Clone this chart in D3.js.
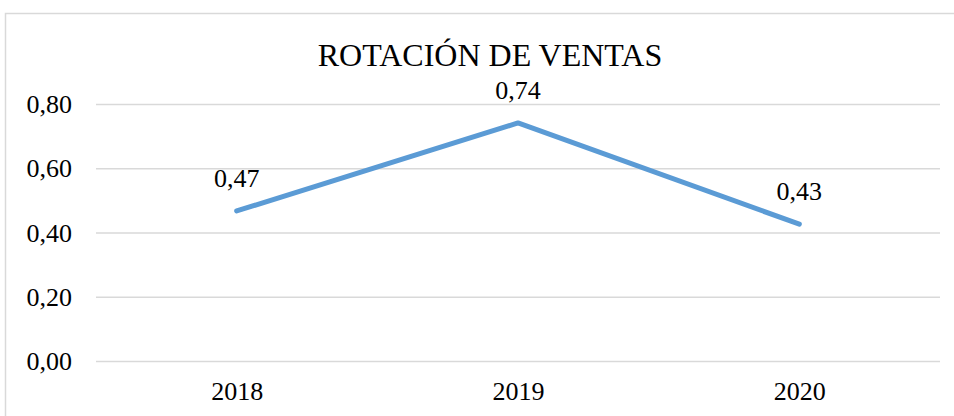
<!DOCTYPE html>
<html>
<head>
<meta charset="utf-8" />
<title>Rotación de ventas</title>
<script src="https://d3js.org/d3.v7.min.js"></script>
<style>
  body { margin: 0; background: #fff; }
</style>
</head>
<body>
<div id="canvas"></div>
<script>
// datos
var anios = ["2018", "2019", "2020"];
var rotacion = [0.467, 0.741, 0.426];
var ticksY = [0, 0.2, 0.4, 0.6, 0.8];
var titulo = "ROTACIÓN DE VENTAS";

var width = 954, height = 416;
var margin = {left: 96, right: 14, top: 104, bottom: 55};
var fuente = "'Liberation Serif', 'Times New Roman', serif";

var svg = d3.select("#canvas").append("svg")
    .attr("width", width)
    .attr("height", height);

// marco del gráfico (se corta a la derecha y abajo)
svg.append("rect")
    .attr("x", 5.5).attr("y", 13.5)
    .attr("width", 980).attr("height", 440)
    .attr("fill", "none")
    .attr("stroke", "#d9d9d9")
    .attr("stroke-width", 1.5);

var x = d3.scalePoint()
    .domain(anios)
    .range([margin.left, width - margin.right])
    .padding(0.5);

var y = d3.scaleLinear()
    .domain([0, 0.8])
    .range([height - margin.bottom, margin.top]);

var fmt = function(v){ return d3.format(".2f")(v).replace(".", ","); };

// líneas de cuadrícula + etiquetas del eje Y
var yAxis = svg.append("g")
    .attr("transform", "translate(" + margin.left + ",0)")
    .call(d3.axisLeft(y)
        .tickValues(ticksY)
        .tickSize(-(width - margin.left - margin.right))
        .tickPadding(24)
        .tickFormat(fmt));
yAxis.select(".domain").remove();
yAxis.selectAll(".tick line").attr("stroke", "#d9d9d9").attr("stroke-width", 1.5);
yAxis.selectAll(".tick text")
    .style("font-family", fuente)
    .style("font-size", "26px").attr("dy", "0.33em").attr("fill", "#000");

// eje X solo con etiquetas
var xAxis = svg.append("g")
    .attr("transform", "translate(0," + y(0) + ")")
    .call(d3.axisBottom(x).tickSize(0).tickPadding(21));
xAxis.select(".domain").remove();
xAxis.selectAll(".tick text")
    .style("font-family", fuente)
    .style("font-size", "26px").attr("dy", "0.71em").attr("fill", "#000");

// línea
var line = d3.line()
    .x(function(d, i){ return x(anios[i]); })
    .y(function(d){ return y(d); });

svg.append("path")
    .datum(rotacion)
    .attr("d", line)
    .attr("fill", "none")
    .attr("stroke", "#5b9bd5")
    .attr("stroke-width", 5)
    .attr("stroke-linecap", "round")
    .attr("stroke-linejoin", "round");

// etiquetas de datos
svg.selectAll(".etiqueta")
    .data(rotacion)
    .enter().append("text")
    .attr("class", "etiqueta")
    .attr("x", function(d, i){ return x(anios[i]); })
    .attr("y", function(d){ return y(d) - 24; })
    .attr("text-anchor", "middle")
    .style("font-size", "26px")
    .style("font-family", fuente)
    .text(fmt);

// título
svg.append("text")
    .attr("x", 490)
    .attr("y", 66)
    .attr("text-anchor", "middle")
    .style("font-size", "32px")
    .style("font-family", fuente)
    .text(titulo);
</script>
</body>
</html>
